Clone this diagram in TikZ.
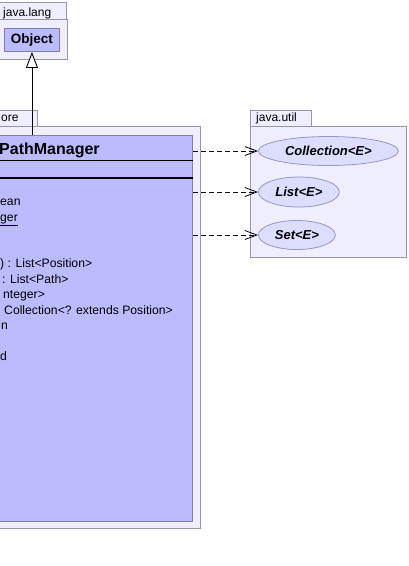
\documentclass[tikz,border=0pt]{standalone}
\usepackage{fontspec}
\setmainfont{Liberation Sans}
\usetikzlibrary{positioning}
\usetikzlibrary{arrows.meta}
\usetikzlibrary{shapes.geometric}
\definecolor{pkgfill}{RGB}{238,238,255}
\definecolor{pkgline}{RGB}{150,150,172}
\definecolor{clsfill}{RGB}{187,187,255}
\definecolor{clsline}{RGB}{128,128,176}
\definecolor{ifcfill}{RGB}{221,221,255}
\definecolor{ifcline}{RGB}{150,150,200}
\newcommand{\fsz}[1]{\fontsize{#1}{#1}\selectfont}
\tikzstyle{pkg} = [draw=pkgline, fill=pkgfill, line width=0.9pt]
\tikzstyle{pkglbl} = [anchor=base west, inner sep=0pt, font=\fsz{12}]
\tikzstyle{cls} = [draw=clsline, fill=clsfill, line width=0.9pt, anchor=north west, inner sep=0pt]
\tikzstyle{ifc} = [ellipse, draw=ifcline, fill=ifcfill, line width=0.8pt, anchor=west, inner sep=0pt, font=\fsz{13}\bfseries\itshape]
\tikzstyle{oper} = [anchor=base west, inner sep=0pt, font=\fsz{12.2}]
\tikzstyle{uses} = [dash pattern=on 5pt off 3pt, line width=0.9pt, -{Straight Barb[length=12pt, width=9pt, line width=0.8pt]}]
\tikzstyle{inherit} = [line width=0.9pt, -{Triangle[open, length=16pt, width=12pt, fill=white]}]

\begin{document}
\begin{tikzpicture}[x=1pt, y=-1pt]
	\useasboundingbox (0,0) rectangle (409,566);
	\clip (0,0) rectangle (409,566);

	% packages
	\draw [pkg] (-40,2) rectangle (66,19);
	\draw [pkg] (-40,19) rectangle (67,59);
	\node (langlbl) [pkglbl] at (3,16) {java.lang};

	\draw [pkg] (-40,110) rectangle (37,126);
	\draw [pkg] (-40,126) rectangle (200,528);
	\node (corelbl) [pkglbl] at (1,121.7) {ore};

	\draw [pkg] (250,110) rectangle (311,126);
	\draw [pkg] (250,126) rectangle (406,257);
	\node (utillbl) [pkglbl] at (256,121.7) {java.util};

	% classes
	\node (obj) [cls, minimum width=55pt, minimum height=23pt, font=\fsz{13.5}\bfseries] at (4,28) {Object};

	\node (mgr) [cls, minimum width=252pt, minimum height=386pt] at (-60,135) {};
	\node (mgrname) [anchor=base west, inner sep=0pt, font=\fsz{16}\bfseries] at (-1,154) {PathManager};
	\draw [line width=0.9pt] (mgr.west |- 0,160) -- (mgr.east |- 0,160);
	\draw [line width=1.8pt] (mgr.west |- 0,178) -- (mgr.east |- 0,178);

	\node (op1) [oper] at (0,205.8) {ean};
	\node (op2) [oper] at (0,221.3) {\underline{ger}};
	\node (op3) [oper] at (0,267.8) {) : List<Position>};
	\node (op4) [oper] at (2,283.3) {: List<Path>};
	\node (op5) [oper] at (3,298.8) {nteger>};
	\node (op6) [oper] at (4,314.3) {Collection<? extends Position>};
	\node (op7) [oper] at (1,329.8) {n};
	\node (op8) [oper] at (0,360.8) {d};

	\draw [inherit] (obj.south |- mgr.north) -- (obj.south);

	% interfaces
	\node (coll) [ifc, minimum width=140pt, minimum height=29pt] at (258,151) {Collection<E>};
	\node (list) [ifc, minimum width=81pt, minimum height=30pt] at (258,192) {List<E>};
	\node (set) [ifc, minimum width=77pt, minimum height=29pt] at (258,235) {Set<E>};

	\draw [uses] (coll.west -| mgr.east) -- (coll.west);
	\draw [uses] (list.west -| mgr.east) -- (list.west);
	\draw [uses] (set.west -| mgr.east) -- (set.west);

\end{tikzpicture}
\end{document}
